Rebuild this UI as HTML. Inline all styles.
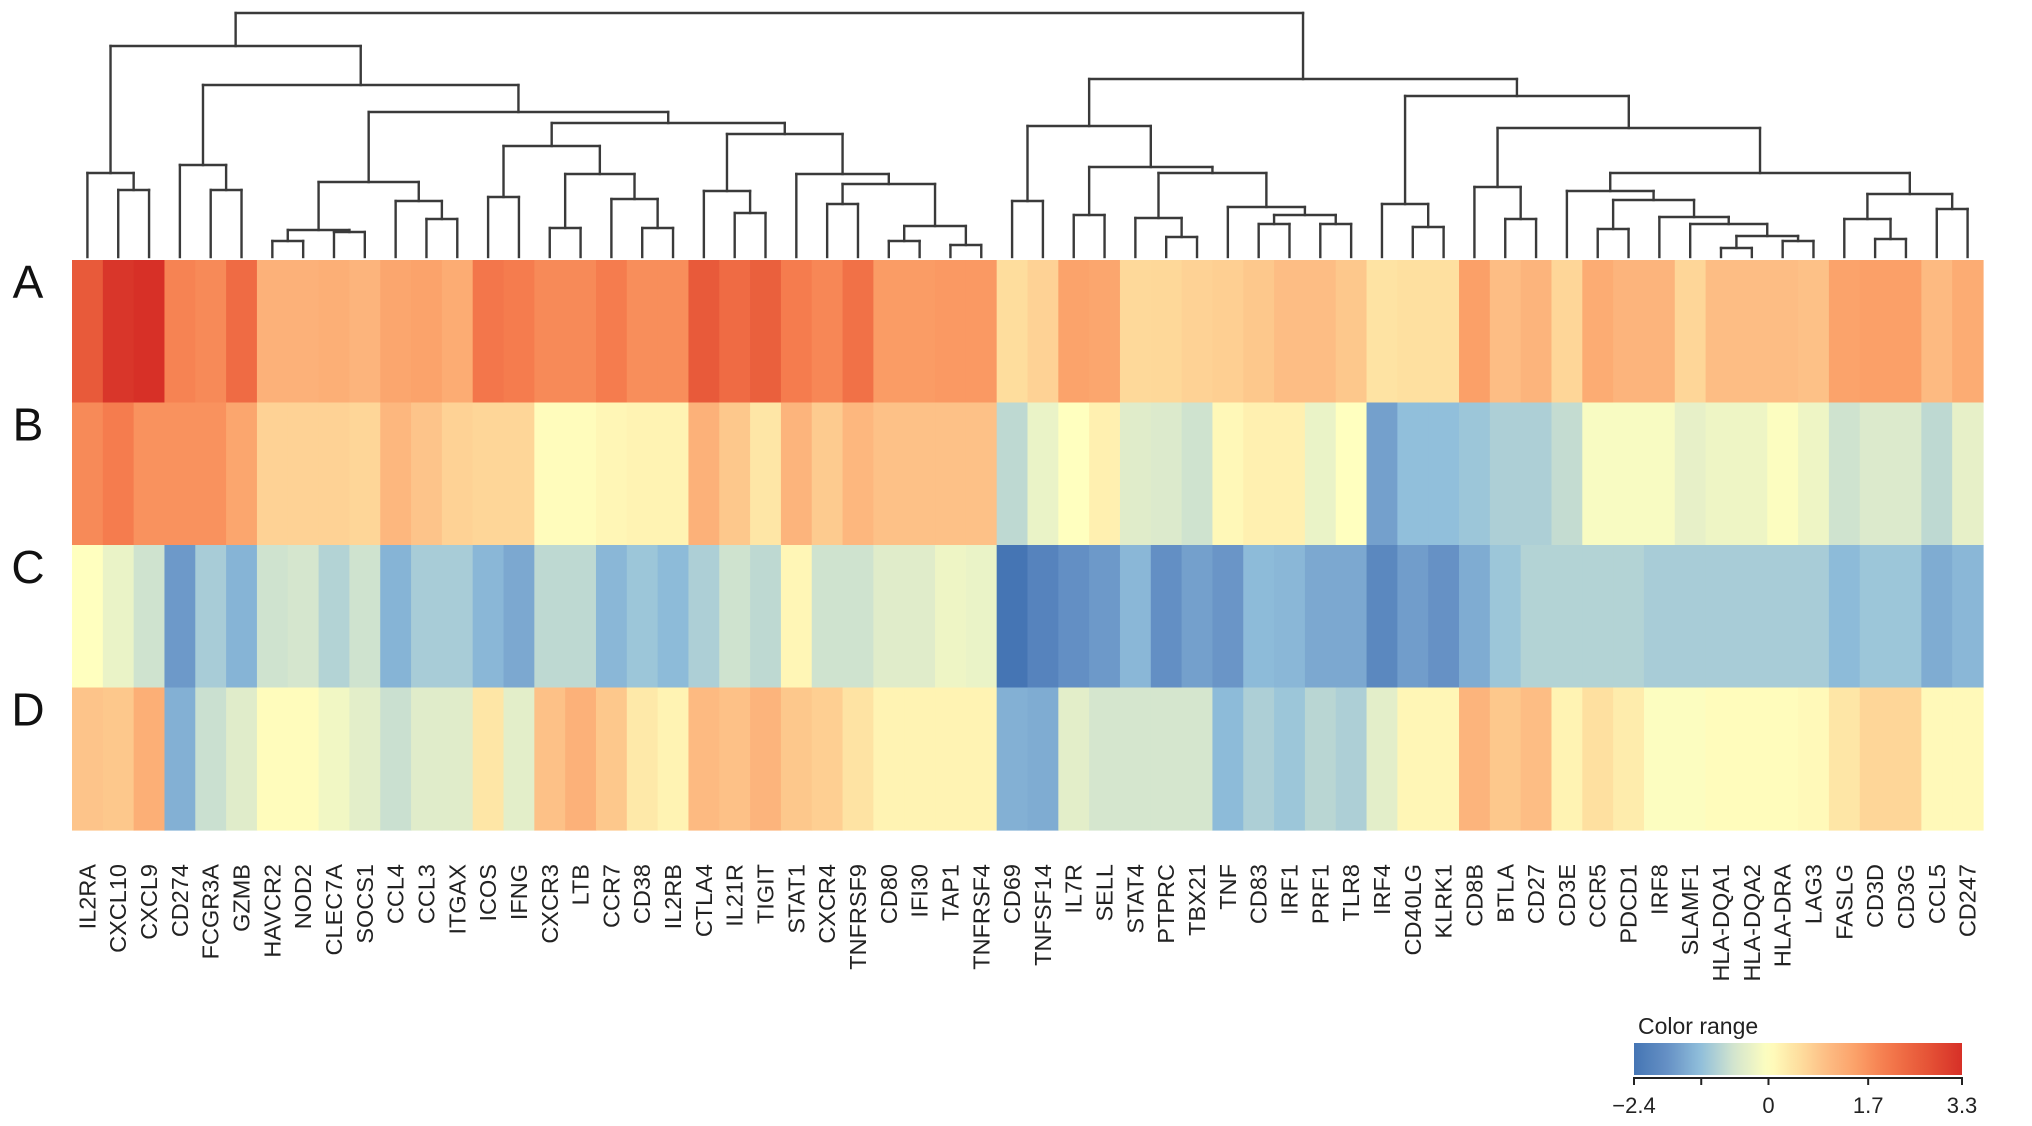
<!DOCTYPE html>
<html><head><meta charset="utf-8">
<style>
html,body{margin:0;padding:0;background:#fff;}
svg{display:block;font-family:"Liberation Sans",Arial,sans-serif;}
</style></head>
<body>
<svg id="chart" width="2032" height="1126" viewBox="0 0 2032 1126" xmlns="http://www.w3.org/2000/svg">
<defs><linearGradient id="cbgrad" x1="0" x2="1" y1="0" y2="0"></linearGradient></defs>
<g id="dendro"></g>
<g id="cells"></g>
<g id="rowlabels"></g>
<g id="collabels"></g>
<g id="legend"></g>
</svg>
<script>
const genes = ["IL2RA","CXCL10","CXCL9","CD274","FCGR3A","GZMB","HAVCR2","NOD2","CLEC7A","SOCS1","CCL4","CCL3","ITGAX","ICOS","IFNG","CXCR3","LTB","CCR7","CD38","IL2RB","CTLA4","IL21R","TIGIT","STAT1","CXCR4","TNFRSF9","CD80","IFI30","TAP1","TNFRSF4","CD69","TNFSF14","IL7R","SELL","STAT4","PTPRC","TBX21","TNF","CD83","IRF1","PRF1","TLR8","IRF4","CD40LG","KLRK1","CD8B","BTLA","CD27","CD3E","CCR5","PDCD1","IRF8","SLAMF1","HLA-DQA1","HLA-DQA2","HLA-DRA","LAG3","FASLG","CD3D","CD3G","CCL5","CD247"];
const rowNames = ["A","B","C","D"];
const rowA = [2.6,3.2,3.3,1.9,1.8,2.3,1.2,1.2,1.25,1.15,1.4,1.45,1.3,2.1,2.0,1.8,1.8,2.0,1.75,1.75,2.6,2.3,2.5,2.0,1.85,2.2,1.55,1.55,1.6,1.6,
  0.55,0.7,1.45,1.4,0.6,0.62,0.7,0.75,0.85,1.0,1.0,0.85,0.45,0.5,0.5,1.5,1.0,1.15,0.65,1.3,1.15,1.15,0.65,1.0,1.0,1.0,0.95,1.45,1.5,1.5,1.05,1.3];
const rowB = [1.8,2.0,1.7,1.7,1.7,1.4,0.7,0.7,0.7,0.65,1.1,0.9,0.7,0.65,0.65,0.05,0.05,0.15,0.2,0.2,1.2,0.85,0.4,1.15,0.8,1.1,0.95,0.95,0.95,0.95,
  -0.8,-0.3,0.0,0.25,-0.45,-0.5,-0.65,0.12,0.25,0.25,-0.3,0.0,-1.6,-1.2,-1.2,-1.1,-0.95,-0.95,-0.75,-0.1,-0.1,-0.1,-0.35,-0.25,-0.25,-0.05,-0.25,-0.65,-0.5,-0.5,-0.8,-0.35];
const rowC = [0.0,-0.3,-0.65,-1.7,-1.0,-1.35,-0.65,-0.6,-0.9,-0.65,-1.35,-1.0,-1.0,-1.3,-1.5,-0.8,-0.8,-1.3,-1.1,-1.25,-0.95,-0.65,-0.8,0.15,-0.65,-0.65,-0.45,-0.45,-0.25,-0.3,
  -2.4,-2.1,-1.85,-1.7,-1.3,-1.85,-1.6,-1.75,-1.25,-1.3,-1.5,-1.5,-2.0,-1.65,-1.8,-1.45,-1.1,-0.9,-0.9,-0.9,-0.9,-1.0,-1.0,-1.0,-1.0,-1.0,-1.0,-1.25,-1.1,-1.1,-1.45,-1.3];
const rowD = [0.9,0.85,1.25,-1.4,-0.7,-0.45,0.05,0.05,-0.2,-0.4,-0.7,-0.45,-0.45,0.4,-0.4,0.95,1.2,0.85,0.35,0.2,1.05,0.95,1.15,0.85,0.75,0.45,0.2,0.2,0.2,0.2,
  -1.4,-1.45,-0.4,-0.6,-0.6,-0.6,-0.6,-1.25,-0.95,-1.1,-0.85,-0.95,-0.4,0.15,0.15,1.15,0.85,1.0,0.2,0.5,0.3,-0.05,-0.05,0.05,0.05,0.05,0.1,0.4,0.65,0.65,0.1,0.1];
const legendTicks = [-2.4,-1.2,0,1.7,3.3];
const legendTickLabels = ["\u22122.4","","0","1.7","3.3"];

function N(h,a,b){return {h:h,c:[a,b]};}
const tree = N(13,
  N(46, N(173,0,N(190,1,2)),
        N(85, N(165,3,N(190,4,5)),
              N(112, N(182, N(230,N(241,6,7),N(232,8,9)), N(201,10,N(219,11,12))),
                     N(123, N(146, N(197,13,14), N(174, N(228,15,16), N(199,17,N(228,18,19)))),
                            N(134, N(191,20,N(213,21,22)), N(174,23,N(184,N(204,24,25),N(226,N(241,26,27),N(245,28,29))))))))),
  N(79, N(126, N(201,30,31), N(167, N(215,32,33), N(173, N(218,34,N(237,35,36)), N(207,37,N(215,N(224,38,39),N(224,40,41)))))),
        N(96, N(204,42,N(227,43,44)),
              N(128, N(187,45,N(219,46,47)),
                     N(173, N(191,48,N(200,N(229,49,50),N(217,51,N(224,52,N(236,N(248,53,54),N(241,55,56)))))),
                            N(194, N(219,57,N(239,58,59)), N(209,60,61))))))
);

const NS="http://www.w3.org/2000/svg";
const X0=72, X1=1983, Y0=260, ROWH=142.5, LEAFY=257;
const nCol=genes.length, colW=(X1-X0)/nCol;
function xCol(i){return X0+colW*i;}
function xCenter(i){return X0+colW*(i+0.5);}
function yRow(r){return Y0+ROWH*r;}

const stops=[[-2.4,[69,117,180]],[-1.8,[102,145,197]],[-1.2,[145,191,219]],[-0.6,[213,230,206]],[0,[255,255,191]],[0.5,[254,224,160]],[1.0,[253,189,132]],[1.5,[251,160,104]],[2.0,[245,124,78]],[2.6,[232,90,58]],[3.3,[215,48,39]]];
function color(v){
  if(v<=stops[0][0]) return rgb(stops[0][1]);
  for(let i=1;i<stops.length;i++){
    if(v<=stops[i][0]){const a=stops[i-1],b=stops[i];const t=(v-a[0])/(b[0]-a[0]);
      return rgb(a[1].map((c,k)=>c+(b[1][k]-c)*t));}
  }
  return rgb(stops[stops.length-1][1]);
}
function rgb(c){return "rgb("+c.map(x=>Math.round(x)).join(",")+")";}
function el(tag,attrs,parent){const e=document.createElementNS(NS,tag);for(const k in attrs)e.setAttribute(k,attrs[k]);parent.appendChild(e);return e;}

const cells=document.getElementById("cells");
const rows=[rowA,rowB,rowC,rowD];
rows.forEach((vals,r)=>{
  vals.forEach((v,i)=>{
    const rc=el("rect",{x:xCol(i),y:yRow(r),width:colW+0.6,height:ROWH+0.6,fill:color(v)},cells);
    
    
  });
});

const dg=document.getElementById("dendro");
function line(x1,y1,x2,y2){
  const l=el("line",{x1:x1,y1:y1,x2:x2,y2:y2,stroke:"#3a3a3a","stroke-width":2.4,"stroke-linecap":"square"},dg);
  
  
}
function draw(n){
  if(typeof n==="number") return {x:xCenter(n),y:LEAFY};
  const a=draw(n.c[0]), b=draw(n.c[1]);
  line(a.x,a.y,a.x,n.h); line(b.x,b.y,b.x,n.h); line(a.x,n.h,b.x,n.h);
  return {x:(a.x+b.x)/2,y:n.h};
}
draw(tree);

const rl=document.getElementById("rowlabels");
rowNames.forEach((nm,r)=>{
  const t=el("text",{x:28,y:yRow(r)+38,"font-size":46,"text-anchor":"middle",fill:"#111"},rl);
  t.textContent=nm;
  
  
});

const cl=document.getElementById("collabels");
genes.forEach((g,i)=>{
  const x=xCenter(i)+8, y=864;
  const t=el("text",{x:x,y:y,"font-size":23.5,"text-anchor":"end",fill:"#222",transform:"rotate(-90 "+x+" "+y+")"},cl);
  t.textContent=g;
  
  
});

const LG=document.getElementById("legend");
const LX0=1634, LX1=1962, LY0=1043, LY1=1075;
function lpos(v){return v<=0 ? LX0+(LX1-LX0)*0.41*(v+2.4)/2.4 : LX0+(LX1-LX0)*(0.41+0.59*v/3.3);}
const grad=document.getElementById("cbgrad");
for(let k=0;k<=40;k++){
  const p=k/40;
  const v = p<=0.41 ? -2.4+2.4*p/0.41 : 3.3*(p-0.41)/0.59;
  el("stop",{offset:(p*100)+"%","stop-color":color(v)},grad);
}
const title=el("text",{x:1638,y:1034,"font-size":23,fill:"#222"},LG);
title.textContent="Color range";


const bar=el("rect",{x:LX0,y:LY0,width:LX1-LX0,height:LY1-LY0,fill:"url(#cbgrad)"},LG);


const ax=el("line",{x1:LX0,y1:1078,x2:LX1,y2:1078,stroke:"#222","stroke-width":2},LG);


legendTicks.forEach((v,i)=>{
  const x=lpos(v);
  const tk=el("line",{x1:x,y1:1077,x2:x,y2:1085,stroke:"#222","stroke-width":2},LG);
  
  
  if(legendTickLabels[i]){
    const t=el("text",{x:x,y:1113,"font-size":22,"text-anchor":"middle",fill:"#222"},LG);
    t.textContent=legendTickLabels[i];
    
    
  }
});
</script>
</body></html>
